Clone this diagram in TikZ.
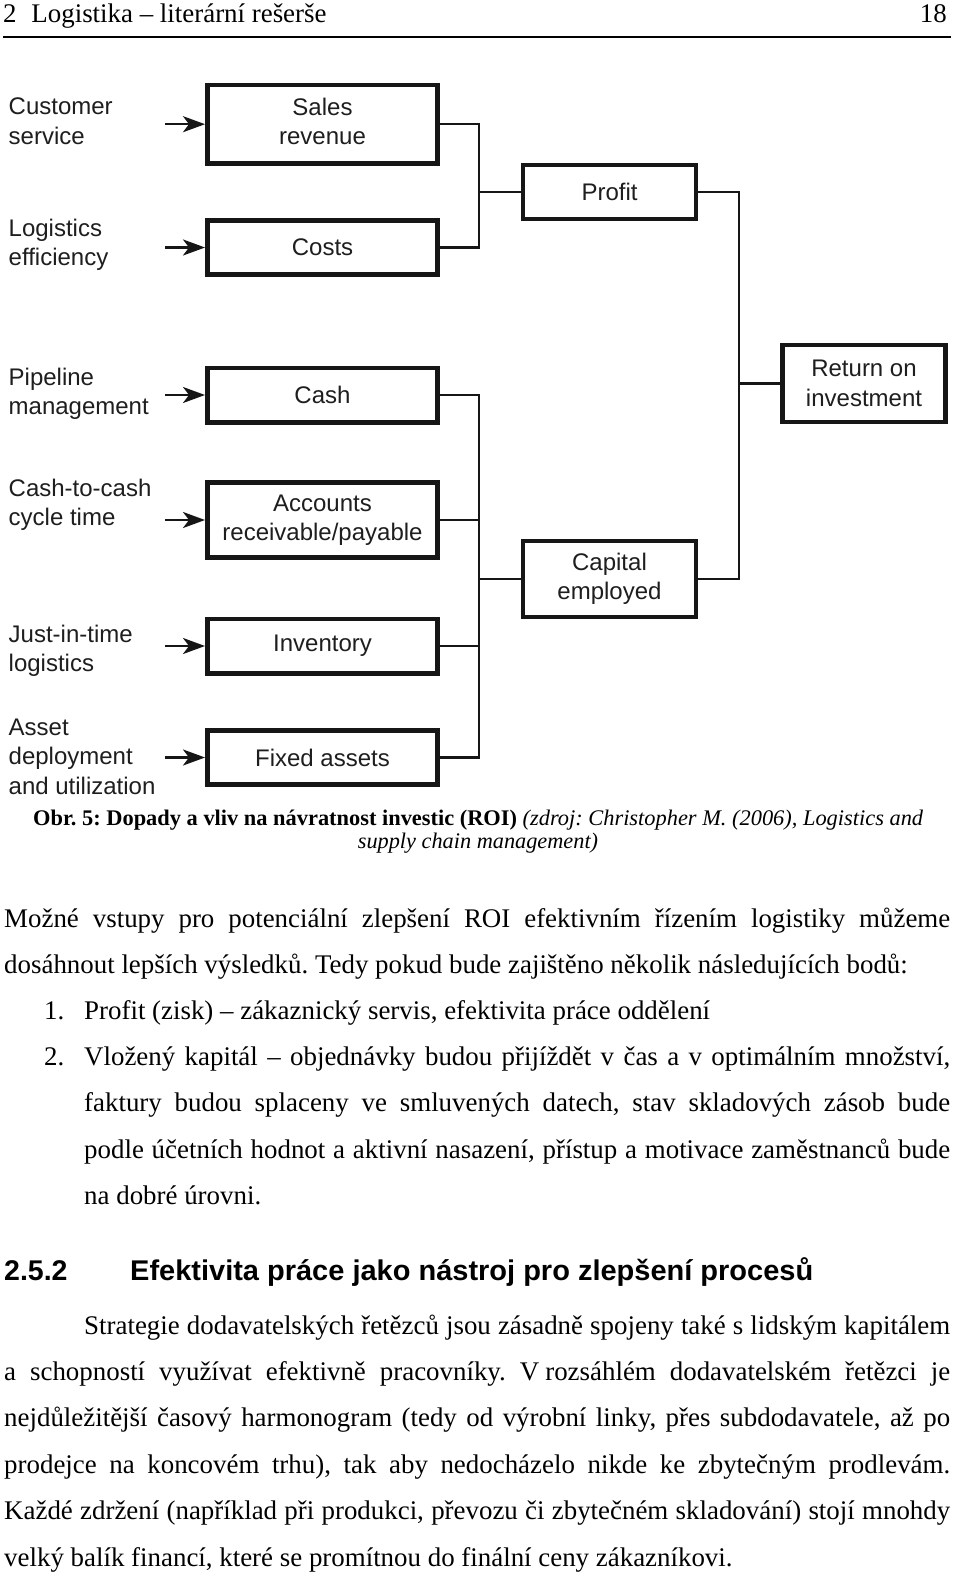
\documentclass[tikz,border=0pt]{standalone}
\usepackage{fontspec}
\usepackage{graphicx}
\setmainfont{Liberation Serif}
\newfontfamily\diagfont{Liberation Sans}
\newfontfamily\headfont{Liberation Sans}
\usetikzlibrary{arrows.meta}
\definecolor{ink}{HTML}{161616}
\definecolor{labink}{HTML}{1E1E1E}
\newcommand\bodysz{\fontsize{26.9pt}{32pt}\selectfont\frenchspacing}
\newcommand\labsz{\diagfont\fontsize{24pt}{29.5pt}\selectfont}
\newcommand\capsz{\fontsize{22.3pt}{25pt}\selectfont\frenchspacing}
\newcommand\lstack[1]{\begin{tabular}[t]{@{}l@{}}#1\end{tabular}}
\newsavebox\jbox
\newcommand\jline[2]{\sbox\jbox{#2}\ifdim\wd\jbox>#1\relax\resizebox{#1}{\height}{\usebox\jbox}\else\makebox[#1][s]{#2}\fi}
\tikzset{
  lab/.style={anchor=base west, inner sep=0pt, font=\labsz, text=labink},
  lbox/.style={draw=ink, line width=4.6pt, minimum width=230.4pt, inner sep=0pt, align=center, font=\labsz, text=labink},
  rbox/.style={draw=ink, line width=4.2pt, inner sep=0pt, align=center, font=\labsz, text=labink},
  conn/.style={draw=ink, line width=2.3pt},
  feed/.style={draw=ink, line width=2.3pt, -{Stealth[length=22pt,width=16pt,inset=6pt]}},
  txt/.style={anchor=base west, inner sep=0pt, font=\bodysz},
}
\begin{document}
\begin{tikzpicture}[x=1pt,y=-1pt]
\useasboundingbox (0,0) rectangle (960,1576);
\fill[white] (0,0) rectangle (960,1576);

% header
\node[txt] (hdr) at (3,23) {2\hspace{0.55em}Logistika – literární rešerše};
\node[anchor=base east, inner sep=0pt, font=\bodysz] (pg) at (947,23) {18};
\draw[line width=2pt] (3,37.5) -- (951,37.5);

% input labels
\node[lab] (in1) at (8.5,115) {\lstack{Customer\\service}};
\node[lab] (in2) at (8.5,236) {\lstack{Logistics\\efficiency}};
\node[lab] (in3) at (8.5,385) {\lstack{Pipeline\\management}};
\node[lab] (in4) at (8.5,496) {\lstack{Cash-to-cash\\cycle time}};
\node[lab] (in5) at (8.5,642) {\lstack{Just-in-time\\logistics}};
\node[lab] (in6) at (8.5,735) {\lstack{Asset\\deployment\\and utilization}};

% boxes
\node[lbox, minimum height=78.4pt] (sales) at (322.5,124.2) {\begin{tabular}{@{}c@{}}Sales\\revenue\end{tabular}};
\node[lbox, minimum height=54.4pt] (costs) at (322.5,247.5) {Costs};
\node[lbox, minimum height=54.4pt] (cash) at (322.5,395) {Cash};
\node[lbox, minimum height=75.4pt] (ar) at (322.5,520) {Accounts\\receivable/payable};
\node[lbox, minimum height=54.4pt] (inv) at (322.5,646) {Inventory};
\node[lbox, minimum height=54.4pt] (fixed) at (322.5,757.5) {Fixed assets};
\node[rbox, minimum width=172.8pt, minimum height=53.8pt] (profit) at (609.5,192) {Profit};
\node[rbox, line width=3.6pt, minimum width=173.4pt, minimum height=76.4pt] (capital) at (609.5,579) {Capital\\employed};
\node[rbox, minimum width=163pt, minimum height=76.8pt] (roi) at (864,383.5) {Return on\\investment};

% input arrows
\coordinate (a1) at (165,124.2);
\coordinate (a2) at (165,247.5);
\coordinate (a3) at (165,395);
\coordinate (a4) at (165,520);
\coordinate (a5) at (165,646);
\coordinate (a6) at (165,757.5);
\draw[feed] (a1) -- (sales.west);
\draw[feed] (a2) -- (costs.west);
\draw[feed] (a3) -- (cash.west);
\draw[feed] (a4) -- (ar.west);
\draw[feed] (a5) -- (inv.west);
\draw[feed] (a6) -- (fixed.west);

% connectors
\coordinate (j1) at (479,192);
\coordinate (j2) at (479,579);
\coordinate (j3) at (739,383.5);
\draw[conn] (sales.east) -| (j1) -- (profit.west);
\draw[conn] (costs.east) -| (j1);
\draw[conn] (cash.east) -| (j2) -- (capital.west);
\draw[conn] (fixed.east) -| (j2);
\draw[conn] (ar.east) -- (ar.east -| j2);
\draw[conn] (inv.east) -- (inv.east -| j2);
\draw[conn] (profit.east) -| (j3) -- (roi.west);
\draw[conn] (capital.east) -| (j3);

% caption
\node[anchor=base west, inner sep=0pt, font=\capsz] (cap1) at (33,825) {\resizebox{890pt}{\height}{\textbf{Obr. 5: Dopady a vliv na návratnost investic (ROI)} \textit{(zdroj: Christopher M. (2006), Logistics and}}};
\node[anchor=base, inner sep=0pt, font=\capsz] (cap2) at (478,848) {\textit{supply chain management)}};

% body text
\node[txt] (p1) at (4,927) {\jline{946pt}{Možné vstupy pro potenciální zlepšení ROI efektivním řízením logistiky můžeme}};
\node[txt] (p2) at (4,973.2) {dosáhnout lepších výsledků. Tedy pokud bude zajištěno několik následujících bodů:};
\node[txt] (n1) at (44,1019.4) {1.};
\node[txt] (i1) at (84,1019.4) {Profit (zisk) – zákaznický servis, efektivita práce oddělení};
\node[txt] (n2) at (44,1065.6) {2.};
\node[txt] (i2a) at (84,1065.6) {\jline{866pt}{Vložený kapitál – objednávky budou přijíždět v čas a v optimálním množství,}};
\node[txt] (i2b) at (84,1111.8) {\jline{866pt}{faktury budou splaceny ve smluvených datech, stav skladových zásob bude}};
\node[txt] (i2c) at (84,1158) {\jline{866pt}{podle účetních hodnot a aktivní nasazení, přístup a motivace zaměstnanců bude}};
\node[txt] (i2d) at (84,1204.2) {na dobré úrovni.};

% heading
\node[anchor=base west, inner sep=0pt, font={\headfont\bfseries\fontsize{28.5pt}{32pt}\selectfont}] (hnum) at (4,1280) {2.5.2};
\node[anchor=base west, inner sep=0pt, font={\headfont\bfseries\fontsize{28.5pt}{32pt}\selectfont}] (htitle) at (130,1280) {\resizebox{683pt}{\height}{Efektivita práce jako nástroj pro zlepšení procesů}};

% paragraph
\node[txt] (q1) at (84,1334) {\jline{866pt}{Strategie dodavatelských řetězců jsou zásadně spojeny také s lidským kapitálem}};
\node[txt] (q2) at (4,1380.4) {\jline{946pt}{a schopností využívat efektivně pracovníky. V\kern6pt rozsáhlém dodavatelském řetězci je}};
\node[txt] (q3) at (4,1426.8) {\jline{946pt}{nejdůležitější časový harmonogram (tedy od výrobní linky, přes subdodavatele, až po}};
\node[txt] (q4) at (4,1473.2) {\jline{946pt}{prodejce na koncovém trhu), tak aby nedocházelo nikde ke zbytečným prodlevám.}};
\node[txt] (q5) at (4,1519.6) {\jline{946pt}{Každé zdržení (například při produkci, převozu či zbytečném skladování) stojí mnohdy}};
\node[txt] (q6) at (4,1566) {velký balík financí, které se promítnou do finální ceny zákazníkovi.};
\end{tikzpicture}
\end{document}
